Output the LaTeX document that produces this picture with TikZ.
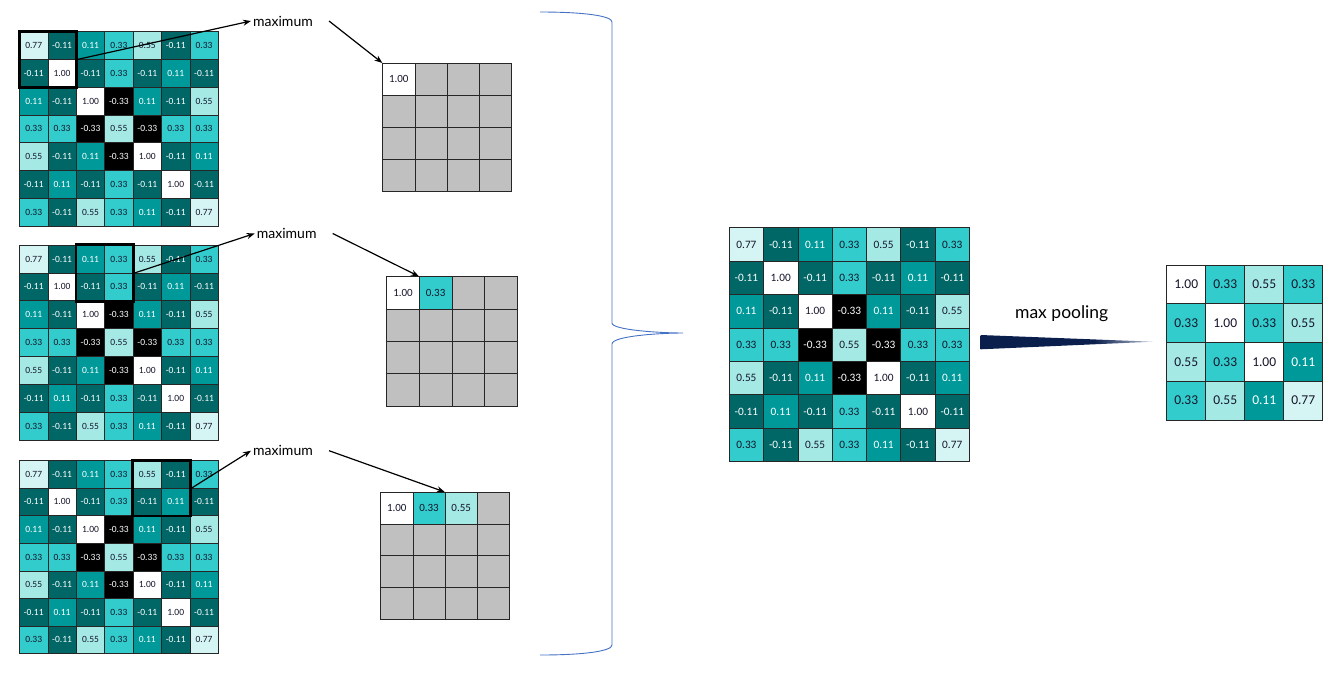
\documentclass[tikz,border=0pt]{standalone}
\usepackage{fontspec}
\setmainfont{Carlito}
\newfontfamily\lblfont{Lato}
\usetikzlibrary{fit,arrows.meta}
\definecolor{c77}{HTML}{D4F5F3}
\definecolor{c55}{HTML}{A5E9E5}
\definecolor{c33}{HTML}{33CCCC}
\definecolor{c11}{HTML}{009999}
\definecolor{cm11}{HTML}{006666}
\definecolor{cgray}{HTML}{C0C0C0}
\definecolor{txt}{HTML}{15152A}
\definecolor{bracecol}{HTML}{4472C4}
\definecolor{navy}{HTML}{0B1F4D}
\definecolor{navylight}{HTML}{B8C2D6}
\pgfdeclarehorizontalshading{wedgeshade}{100bp}{color(0bp)=(navy); color(25bp)=(navy); color(58bp)=(navy); color(75bp)=(navylight); color(100bp)=(navylight)}
\tikzset{
  x=1pt,y=-1pt,
  cell/.style={draw=black!85, line width=0.7pt, inner sep=0pt, text=txt},
  val/.style={v#1},
  v0.77/.style={fill=c77},
  v0.55/.style={fill=c55},
  v0.33/.style={fill=c33},
  v0.11/.style={fill=c11,text=white},
  v-0.11/.style={fill=cm11,text=white},
  v-0.33/.style={fill=black,text=white},
  v1.00/.style={fill=white},
  vg/.style={fill=cgray},
  hl/.style={draw=black, line width=2.7pt, inner sep=0pt},
  arr/.style={draw=black, line width=1.2pt, -{Stealth[length=8pt,width=6pt]}},
  lbl/.style={font=\lblfont\fontsize{14}{16}\selectfont, inner sep=2pt},
  bracestyle/.style={draw=bracecol, line width=0.9pt},
}
\def\gmark{g}
\newcommand\showval[1]{\edef\tmpv{#1}\ifx\tmpv\gmark\else\tmpv\fi}
\newcommand\drawmat[7]{%
  \foreach \rowvals [count=\ri] in #7 {%
    \foreach \vv [count=\ci] in \rowvals {%
      \node[cell, val/.expanded=\vv, minimum width=#4pt, minimum height=#5pt,
            font=\fontsize{#6}{#6}\selectfont]
        (#1-\ri-\ci) at ({#2+(\ci-0.5)*#4},{#3+(\ri-0.5)*#5}) {\showval{\vv}};
    }%
  }%
}
\def\Mdata{{0.77,-0.11,0.11,0.33,0.55,-0.11,0.33},{-0.11,1.00,-0.11,0.33,-0.11,0.11,-0.11},{0.11,-0.11,1.00,-0.33,0.11,-0.11,0.55},{0.33,0.33,-0.33,0.55,-0.33,0.33,0.33},{0.55,-0.11,0.11,-0.33,1.00,-0.11,0.11},{-0.11,0.11,-0.11,0.33,-0.11,1.00,-0.11},{0.33,-0.11,0.55,0.33,0.11,-0.11,0.77}}
\def\Ga{{1.00,g,g,g},{g,g,g,g},{g,g,g,g},{g,g,g,g}}
\def\Gb{{1.00,0.33,g,g},{g,g,g,g},{g,g,g,g},{g,g,g,g}}
\def\Gc{{1.00,0.33,0.55,g},{g,g,g,g},{g,g,g,g},{g,g,g,g}}
\def\Pdata{{1.00,0.33,0.55,0.33},{0.33,1.00,0.33,0.55},{0.55,0.33,1.00,0.11},{0.33,0.55,0.11,0.77}}
\begin{document}
\begin{tikzpicture}
\useasboundingbox (0,0) rectangle (1335,673);
% input matrices
\drawmat{ma}{19.5}{31.5}{28.4}{27.8}{9.5}{\Mdata}
\drawmat{mb}{19.5}{245}{28.4}{27.9}{9.5}{\Mdata}
\drawmat{mc}{19.5}{460.5}{28.4}{27.6}{9.5}{\Mdata}
% window boxes
\node[hl, fit=(ma-1-1)(ma-2-2)] (ba) {};
\node[hl, fit=(mb-1-3)(mb-2-4)] (bb) {};
\node[hl, fit=(mc-1-5)(mc-2-6)] (bc) {};
% pooled grids
\drawmat{ga}{382.7}{63.3}{32.2}{32}{11}{\Ga}
\drawmat{gb}{386.7}{276.7}{32.6}{32.3}{11}{\Gb}
\drawmat{gc}{380.7}{492.3}{32.2}{31.7}{11}{\Gc}
% labels and arrows
\node[lbl] (xa) at (283,21) {maximum};
\node[lbl] (xb) at (286.7,233.5) {maximum};
\node[lbl] (xc) at (283,450.7) {maximum};
\draw[arr] (ba.east) -- (xa.west);
\draw[arr] ([xshift=14pt]xa.east) -- (ga-1-1.north west);
\draw[arr] (bb.east) -- (xb.west);
\draw[arr] ([xshift=14pt]xb.east) -- (gb-1-2.north west);
\draw[arr] (bc.east) -- (xc.west);
\draw[arr] ([xshift=14pt]xc.east) -- (gc-1-3.north west);
% brace
\draw[bracestyle] (540,12) .. controls (585,12) and (612,16) .. (612,22) -- (612,323)
  .. controls (612,330) and (660,333) .. (683,333)
  .. controls (660,333) and (612,336) .. (612,344) -- (612,645)
  .. controls (612,651) and (585,655) .. (540,655);
% full matrix
\drawmat{mm}{729.3}{227.7}{34.3}{33.4}{11.3}{\Mdata}
% max pooling
\node[font=\lblfont\fontsize{17.5}{20}\selectfont, inner sep=2pt] (mp) at (1061.7,313.3) {max pooling};
\shade[shading=wedgeshade] (980.7,335) -- (1153,341.7) -- (980.7,349.3) -- cycle;
% pooled result
\drawmat{pp}{1166.7}{265}{39}{38.75}{13.5}{\Pdata}
\end{tikzpicture}
\end{document}
